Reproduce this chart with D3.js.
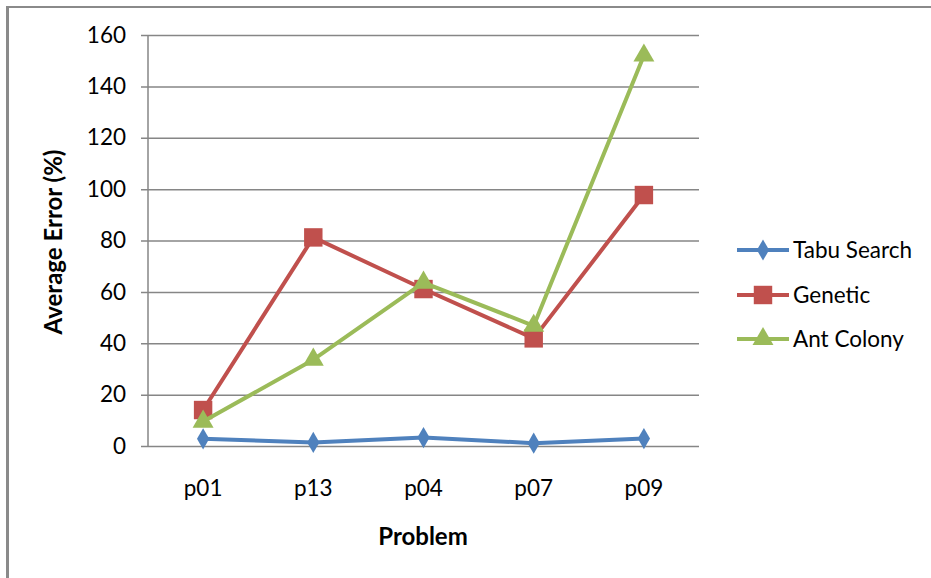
<!DOCTYPE html>
<html>
<head>
<meta charset="utf-8">
<script src="https://cdn.jsdelivr.net/npm/d3@7"></script>
<style>
  html, body { margin: 0; padding: 0; background: #fff; }
  svg { display: block; }
  text { font-family: Lato, "Open Sans", sans-serif; fill: #000; }
</style>
</head>
<body>
<svg id="chart" width="931" height="578"></svg>
<script>
// Problem instances on the x axis
const problems = ["p01", "p13", "p04", "p07", "p09"];
// Average error (%) per algorithm
const tabuSearch = [2.8, 1.4, 3.3, 1.1, 2.9];
const genetic = [14.0, 81.2, 61.1, 41.9, 97.7];
const antColony = [9.5, 33.6, 63.6, 46.8, 152.0];
const seriesNames = ["Tabu Search", "Genetic", "Ant Colony"];
const yTicks = [0, 20, 40, 60, 80, 100, 120, 140, 160];

const series = [
  { name: seriesNames[0], values: tabuSearch, color: "#4F81BD", shape: "diamond" },
  { name: seriesNames[1], values: genetic, color: "#C0504D", shape: "square" },
  { name: seriesNames[2], values: antColony, color: "#9BBB59", shape: "triangle" }
];

const svg = d3.select("#chart");
const plot = { left: 148, right: 699, top: 35, bottom: 446 };
const labelSize = 22.5;

const x = d3.scaleBand().domain(problems).range([plot.left, plot.right]);
const y = d3.scaleLinear().domain([0, 160]).range([plot.bottom, plot.top]);

// Outer frame (top and left edges)
svg.append("line").attr("x1", 7).attr("x2", 931).attr("y1", 7).attr("y2", 7)
  .attr("stroke", "#8a8a8a").attr("stroke-width", 2);
svg.append("line").attr("x1", 7.5).attr("x2", 7.5).attr("y1", 6).attr("y2", 578)
  .attr("stroke", "#8a8a8a").attr("stroke-width", 3);

// Horizontal gridlines with short outward ticks
const yAxis = d3.axisLeft(y).tickValues(yTicks)
  .tickSize(-(plot.right - plot.left)).tickSizeOuter(0).tickPadding(22)
  .tickFormat(d3.format("d"));
const gy = svg.append("g").attr("transform", `translate(${plot.left},0)`).call(yAxis);
gy.select(".domain").remove();
gy.selectAll(".tick line").attr("x1", -7).attr("stroke", "#868686").attr("stroke-width", 1.5);
gy.selectAll(".tick text").attr("font-size", labelSize).attr("font-family", "Lato, sans-serif").attr("fill", "#000");

// Vertical axis line
svg.append("line").attr("x1", plot.left).attr("x2", plot.left)
  .attr("y1", plot.top).attr("y2", plot.bottom)
  .attr("stroke", "#868686").attr("stroke-width", 1.5);

// Category labels
const xAxis = d3.axisBottom(x).tickSize(0).tickPadding(34);
const gx = svg.append("g").attr("transform", `translate(0,${plot.bottom})`).call(xAxis);
gx.select(".domain").remove();
gx.selectAll(".tick text").attr("font-size", labelSize).attr("font-family", "Lato, sans-serif").attr("fill", "#000");

// Axis titles
svg.append("text").attr("x", 423).attr("y", 545).attr("text-anchor", "middle")
  .attr("font-size", 24).attr("font-weight", "bold").text("Problem");
svg.append("text").attr("transform", "translate(62,242) rotate(-90)")
  .attr("text-anchor", "middle").attr("font-size", 24).attr("font-weight", "bold")
  .text("Average Error (%)");

const cx = d => x(d) + x.bandwidth() / 2;
const symbols = {
  diamond: d3.symbol().type(d3.symbolDiamond).size(130),
  square: d3.symbol().type(d3.symbolSquare).size(340),
  triangle: d3.symbol().type(d3.symbolTriangle).size(190)
};

const line = d3.line().x((d, i) => cx(problems[i])).y(d => y(d));

series.forEach(s => {
  const g = svg.append("g");
  g.append("path").datum(s.values).attr("d", line)
    .attr("fill", "none").attr("stroke", s.color).attr("stroke-width", 4)
    .attr("stroke-linejoin", "round");
  g.selectAll("path.marker").data(s.values).join("path").attr("class", "marker")
    .attr("transform", (d, i) => `translate(${cx(problems[i])},${y(d)})`)
    .attr("d", symbols[s.shape]).attr("fill", s.color);
});

// Legend
const legendY = [250, 295, 339];
series.forEach((s, i) => {
  const g = svg.append("g").attr("transform", `translate(0,${legendY[i]})`);
  g.append("line").attr("x1", 737).attr("x2", 789).attr("y1", 0).attr("y2", 0)
    .attr("stroke", s.color).attr("stroke-width", 4);
  g.append("path").attr("transform", "translate(763,0)").attr("d", symbols[s.shape]).attr("fill", s.color);
  g.append("text").attr("x", 793).attr("y", 0).attr("dy", "0.35em")
    .attr("font-size", labelSize).text(s.name);
});
</script>
</body>
</html>
